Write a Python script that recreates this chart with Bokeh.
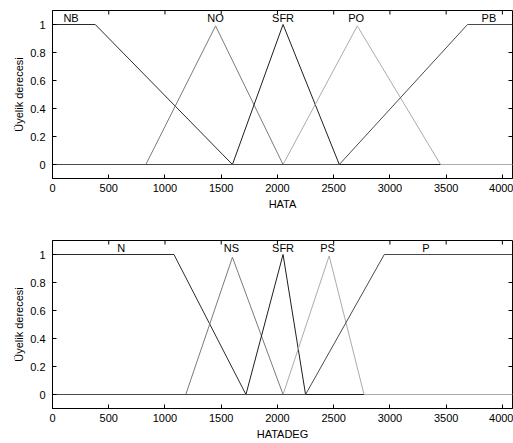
import math
from bokeh.plotting import figure
from bokeh.layouts import column
from bokeh.models import Range1d, FixedTicker, ColumnDataSource
from bokeh.embed import file_html
from bokeh.resources import INLINE
from bokeh.core.properties import value

# ---- data ----
universe = [0, 4090]
y_limits = [-0.1, 1.1]
x_ticks = [0, 500, 1000, 1500, 2000, 2500, 3000, 3500, 4000]
y_ticks = [0, 0.2, 0.4, 0.6, 0.8, 1]

hata_names = ["NB", "NO", "SFR", "PO", "PB"]
hata_params = [[0, 0, 380, 1600],
               [830, 1450, 1450, 2050],
               [1600, 2050, 2050, 2550],
               [2050, 2710, 2710, 3450],
               [2550, 3690, 4090, 4090]]
hata_peaks = [1, 0.99, 1, 0.99, 1]
hata_label_x = [165, 1450, 2050, 2700, 3880]

hatadeg_names = ["N", "NS", "SFR", "PS", "P"]
hatadeg_params = [[0, 0, 1080, 1720],
                  [1185, 1600, 1600, 2050],
                  [1720, 2050, 2050, 2250],
                  [2050, 2460, 2460, 2770],
                  [2250, 2950, 4090, 4090]]
hatadeg_peaks = [1, 0.98, 1, 0.99, 1]
hatadeg_label_x = [610, 1590, 2050, 2445, 3320]

label_y = 1.05
colors = ["#2b2b2b", "#7a7a7a", "#1e1e1e", "#ababab", "#4a4a4a"]

FONT = "Liberation Sans"


def trap(x, a, b, c, d, h):
    if x < a or x > d:
        return 0.0
    if b <= x <= c:
        return h
    if x < b:
        return h * (x - a) / (b - a)
    return h * (d - x) / (d - c)


def mf_line(params, h):
    pts = sorted(set([universe[0], universe[1]] + list(params)))
    pts = [p for p in pts if universe[0] <= p <= universe[1]]
    ys = [trap(p, *params, h) for p in pts]
    return pts, ys


def make_fig(height, top, bottom, xlabel, names, params, peaks, label_x):
    p = figure(width=513, height=height,
               x_range=Range1d(universe[0], universe[1]),
               y_range=Range1d(y_limits[0], y_limits[1]),
               output_backend="svg", toolbar_location=None,
               min_border_left=52, min_border_right=1,
               min_border_top=top, min_border_bottom=bottom)
    p.grid.visible = False
    p.outline_line_color = "black"
    p.outline_line_alpha = 1
    p.background_fill_color = "white"
    p.border_fill_color = "white"

    for ax, ticks in ((p.xaxis[0], x_ticks), (p.yaxis[0], y_ticks)):
        ax.ticker = FixedTicker(ticks=ticks)
        ax.major_tick_in = 4
        ax.major_tick_out = 0
        ax.minor_tick_in = 0
        ax.minor_tick_out = 0
        ax.major_tick_line_color = "black"
        ax.axis_line_color = "black"
        ax.major_label_text_font = FONT
        ax.major_label_text_font_size = "11px"
        ax.major_label_text_color = "black"
        ax.axis_label_text_font = FONT
        ax.axis_label_text_font_size = "11px"
        ax.axis_label_text_font_style = "normal"
        ax.axis_label_text_color = "black"
    p.xaxis[0].axis_label = xlabel
    p.xaxis[0].major_label_standoff = 5
    p.xaxis[0].axis_label_standoff = 3
    p.yaxis[0].axis_label = "Üyelik derecesi"
    p.yaxis[0].major_label_standoff = 7
    p.yaxis[0].axis_label_standoff = 2
    p.yaxis[0].major_label_overrides = {0: "0", 1: "1"}

    # inward ticks on top and right edges (clipped half of a dash marker)
    p.scatter(x=x_ticks, y=[y_limits[1]] * len(x_ticks), marker="dash",
              size=8, angle=math.pi / 2, line_color="black", line_width=1)
    p.scatter(x=[universe[1]] * len(y_ticks), y=y_ticks, marker="dash",
              size=8, line_color="black", line_width=1)

    for prm, h, col in zip(params, peaks, colors):
        xs, ys = mf_line(prm, h)
        p.line(xs, ys, line_color=col, line_width=1)

    src = ColumnDataSource(dict(x=label_x, y=[label_y] * len(names), t=names))
    p.text(x="x", y="y", text="t", source=src, text_font=value(FONT),
           text_font_size="11px", text_align="center", text_baseline="middle",
           text_color="black")
    return p


p1 = make_fig(225, 10, 47, "HATA", hata_names, hata_params, hata_peaks,
              hata_label_x)
p2 = make_fig(218, 15, 35, "HATADEG", hatadeg_names, hatadeg_params,
              hatadeg_peaks, hatadeg_label_x)

layout = column(p1, p2, spacing=0)
open("out.html", "w").write(file_html(layout, INLINE))
